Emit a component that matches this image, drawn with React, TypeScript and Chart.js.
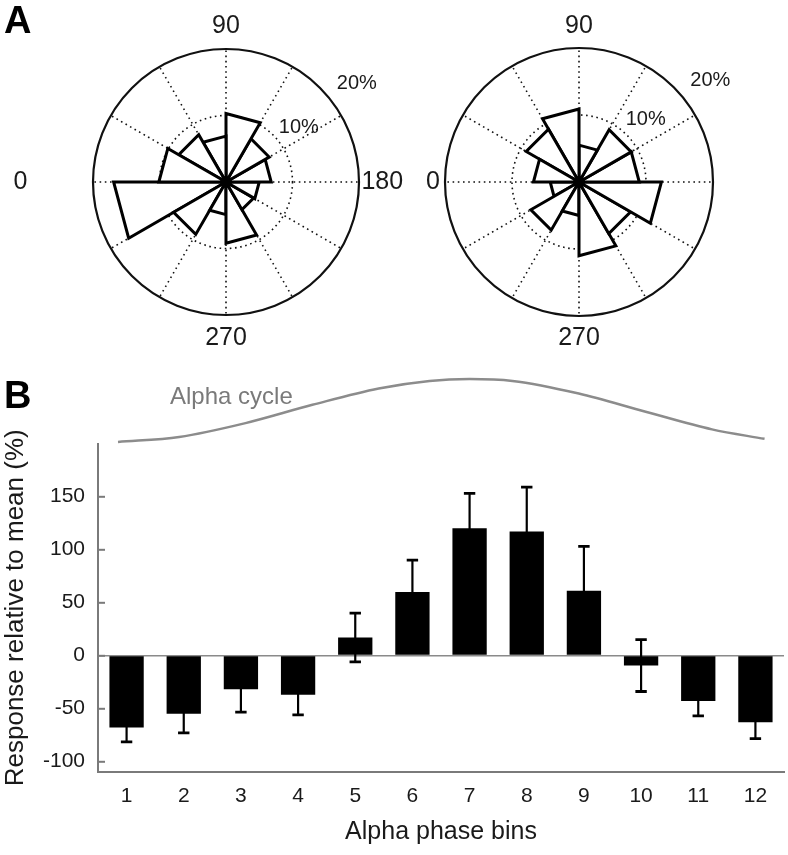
import React, { useEffect, useRef } from 'react';
import { Chart, registerables } from 'chart.js';

Chart.register(...registerables);

const FONT = '"Liberation Sans", Arial, Helvetica, sans-serif';
const TXT = '#1a1a1a';
const AXIS = '#7a7a7a';
const ZERO = '#8a8a8a';

// ---------- Panel A: rose histograms (percentage per 30° phase bin) ----------
const roseBinStarts = [0, 30, 60, 90, 120, 150, 180, 210, 240, 270, 300, 330];
const roseLeftPercent = [10.1, 8.2, 6.9, 10.3, 7.5, 6.8, 5.0, 4.8, 9.2, 4.9, 9.1, 16.9];
const roseRightPercent = [6.8, 9.1, 10.9, 5.5, 9.0, 9.0, 12.3, 8.9, 11.0, 5.0, 8.3, 4.3];
const roseRingLabels = ['10%', '20%'];
const roseAngleLabels = ['0', '90', '180', '270'];

// ---------- Panel B: response per alpha phase bin ----------
const phaseBins = ['1', '2', '3', '4', '5', '6', '7', '8', '9', '10', '11', '12'];
const responseMean = [-68, -55, -32, -37, 17, 60, 120, 117, 61, -9.5, -43, -63];
const responseErr = [13.5, 18, 21.5, 19, 23, 30, 33, 42, 42, 24.5, 14, 15.5];
const yTickValues = [-100, -50, 0, 50, 100, 150];

// Alpha cycle sketch (x in bin units, y relative level)
const cycleX = [0.85, 1.92, 3.08, 4.25, 5.41, 6.3, 7.0, 7.75, 8.91, 10.08, 11.24, 12.16];
const cycleLevel = [0.0, 0.08, 0.3, 0.59, 0.85, 0.97, 1.0, 0.97, 0.77, 0.48, 0.2, 0.05];

type LabelItem = { text: string; index: number; value: number; size: number };

const roseLabelPlugin = {
  id: 'roseLabels',
  afterDraw(chart: any, _args: any, opts: any) {
    const r = chart.scales.r;
    const ctx = chart.ctx;
    ctx.save();
    // hub where all wedge edges meet
    ctx.fillStyle = '#000';
    ctx.beginPath();
    ctx.arc(r.xCenter, r.yCenter, 4, 0, Math.PI * 2);
    ctx.fill();
    ctx.fillStyle = TXT;
    ctx.textAlign = 'center';
    ctx.textBaseline = 'middle';
    (opts.items || []).forEach((it: LabelItem) => {
      const p = r.getPointPositionForValue(it.index, it.value);
      ctx.font = `${it.size}px ${FONT}`;
      ctx.fillText(it.text, p.x, p.y);
    });
    ctx.restore();
  },
};

const errorBarPlugin = {
  id: 'errorBars',
  afterDatasetsDraw(chart: any) {
    const meta = chart.getDatasetMeta(0);
    const y = chart.scales.y;
    const ctx = chart.ctx;
    ctx.save();
    ctx.strokeStyle = '#000';
    ctx.lineCap = 'butt';
    meta.data.forEach((bar: any, i: number) => {
      const v = responseMean[i];
      const e = responseErr[i];
      const x = bar.x;
      const yTop = y.getPixelForValue(v + e);
      const yBot = y.getPixelForValue(v - e);
      ctx.lineWidth = 2.2;
      ctx.beginPath();
      ctx.moveTo(x, yTop);
      ctx.lineTo(x, yBot);
      ctx.stroke();
      ctx.lineWidth = 2.8;
      ctx.beginPath();
      ctx.moveTo(x - 5.7, yTop);
      ctx.lineTo(x + 5.7, yTop);
      ctx.moveTo(x - 5.7, yBot);
      ctx.lineTo(x + 5.7, yBot);
      ctx.stroke();
    });
    ctx.restore();
  },
};

function roseConfig(pcts: number[], padding: any, items: LabelItem[]): any {
  const n = roseBinStarts.length;
  return {
    type: 'radar',
    data: {
      labels: roseBinStarts.map(String),
      datasets: pcts.map((p, i) => ({
        data: roseBinStarts.map((_, j) => (j === i || j === (i + 1) % n ? p : 0)),
        borderColor: '#000',
        borderWidth: 3,
        backgroundColor: '#fff',
        fill: 'origin',
        pointRadius: 0,
        borderJoinStyle: 'miter',
        tension: 0,
      })),
    },
    options: {
      responsive: false,
      animation: false,
      layout: { padding },
      plugins: {
        legend: { display: false },
        tooltip: { enabled: false },
        roseLabels: { items },
      },
      scales: {
        r: {
          min: 0,
          max: 20,
          startAngle: 270,
          ticks: { display: false, stepSize: 10 },
          pointLabels: { display: false },
          angleLines: { display: true, color: '#111', lineWidth: 1.6, borderDash: [1.6, 3.6] },
          grid: {
            circular: true,
            color: (c: any) => '#111',
            lineWidth: (c: any) => (c.tick && c.tick.value >= 20 ? 2.2 : 1.6),
          },
          border: {
            dash: (c: any) => (c.tick && c.tick.value >= 20 ? [] : [1.6, 3.6]),
          },
        },
      },
    },
    plugins: [roseLabelPlugin],
  };
}

export default function App() {
  const leftRef = useRef<HTMLCanvasElement>(null);
  const rightRef = useRef<HTMLCanvasElement>(null);
  const cycleRef = useRef<HTMLCanvasElement>(null);
  const barRef = useRef<HTMLCanvasElement>(null);

  useEffect(() => {
    const charts: Chart[] = [];

    const leftItems: LabelItem[] = [
      { text: roseAngleLabels[0], index: 0, value: 30.9, size: 25 },
      { text: roseAngleLabels[1], index: 3, value: 23.5, size: 25 },
      { text: roseAngleLabels[2], index: 6, value: 23.5, size: 25 },
      { text: roseAngleLabels[3], index: 9, value: 23.5, size: 25 },
      { text: roseRingLabels[0], index: 4.77, value: 13.7, size: 20 },
      { text: roseRingLabels[1], index: 4.77, value: 24.6, size: 20 },
    ];
    const rightItems: LabelItem[] = [
      { text: roseAngleLabels[0], index: 0, value: 21.8, size: 25 },
      { text: roseAngleLabels[1], index: 3, value: 23.3, size: 25 },
      { text: roseAngleLabels[3], index: 9, value: 23.3, size: 25 },
      { text: roseRingLabels[0], index: 4.57, value: 13.6, size: 20 },
      { text: roseRingLabels[1], index: 4.74, value: 24.8, size: 20 },
    ];

    charts.push(
      new Chart(
        leftRef.current as HTMLCanvasElement,
        roseConfig(roseLeftPercent, { left: 93, right: 51, top: 49, bottom: 45 }, leftItems)
      )
    );
    charts.push(
      new Chart(
        rightRef.current as HTMLCanvasElement,
        roseConfig(roseRightPercent, { left: 45, right: 75, top: 48, bottom: 44 }, rightItems)
      )
    );

    charts.push(
      new Chart(cycleRef.current as HTMLCanvasElement, {
        type: 'line',
        data: {
          datasets: [
            {
              data: cycleX.map((x, i) => ({ x, y: cycleLevel[i] })),
              borderColor: '#8c8c8c',
              borderWidth: 2.5,
              pointRadius: 0,
              cubicInterpolationMode: 'monotone',
              fill: false,
              clip: false,
            } as any,
          ],
        },
        options: {
          responsive: false,
          animation: false,
          layout: { padding: { left: 98, right: 4, top: 19, bottom: 8 } },
          plugins: { legend: { display: false }, tooltip: { enabled: false } },
          scales: {
            x: { type: 'linear', min: 0.5, max: 12.5, display: false },
            y: { min: 0, max: 1, display: false },
          },
        },
      })
    );

    charts.push(
      new Chart(barRef.current as HTMLCanvasElement, {
        type: 'bar',
        data: {
          labels: phaseBins,
          datasets: [
            {
              data: responseMean,
              backgroundColor: '#000',
              borderWidth: 0,
              barPercentage: 0.6,
              categoryPercentage: 1,
            },
          ],
        },
        options: {
          responsive: false,
          animation: false,
          layout: { padding: { left: 0, right: 4, top: 13, bottom: 0 } },
          plugins: { legend: { display: false }, tooltip: { enabled: false } },
          scales: {
            x: {
              grid: { display: false, drawTicks: false },
              border: { display: true, color: AXIS, width: 2 },
              ticks: { padding: 12, color: TXT, font: { family: FONT, size: 21 } },
              title: {
                display: true,
                text: 'Alpha phase bins',
                color: TXT,
                font: { family: FONT, size: 25 },
                padding: { top: 0, bottom: 8 },
              },
              afterFit: (s: any) => {
                s.height = 83;
              },
            },
            y: {
              min: -110,
              max: 200,
              afterBuildTicks: (s: any) => {
                s.ticks = yTickValues.map((v) => ({ value: v }));
              },
              grid: {
                drawOnChartArea: true,
                color: (c: any) => (c.tick && c.tick.value === 0 ? ZERO : 'rgba(0,0,0,0)'),
                lineWidth: 1.6,
                drawTicks: true,
                tickLength: -7,
                tickColor: AXIS,
                tickWidth: 2,
              },
              border: { display: true, color: AXIS, width: 2 },
              ticks: { padding: 20, color: TXT, font: { family: FONT, size: 21 } },
              title: {
                display: true,
                text: 'Response relative to mean (%)',
                color: TXT,
                font: { family: FONT, size: 26 },
                padding: { top: 0, bottom: 0 },
              },
              afterFit: (s: any) => {
                s.width = 98;
              },
            },
          },
        } as any,
        plugins: [errorBarPlugin],
      })
    );

    return () => charts.forEach((c) => c.destroy());
  }, []);

  const abs = (l: number, t: number, w: number, h: number): React.CSSProperties => ({
    position: 'absolute',
    left: l,
    top: t,
    width: w,
    height: h,
  });

  return (
    <div style={{ position: 'absolute', left: 0, top: 0, width: 788, height: 855, background: '#fff', overflow: 'hidden', fontFamily: FONT }}>
      <canvas ref={leftRef} width={410} height={360} style={abs(0, 0, 410, 360)} />
      <canvas ref={rightRef} width={388} height={360} style={abs(400, 0, 388, 360)} />
      <canvas ref={barRef} width={788} height={444} style={abs(0, 411, 788, 444)} />
      <canvas ref={cycleRef} width={788} height={90} style={abs(0, 360, 788, 90)} />
      <div style={{ position: 'absolute', left: 4, top: 1, fontSize: 38, lineHeight: '38px', fontWeight: 'bold', color: '#000' }}>A</div>
      <div style={{ position: 'absolute', left: 4, top: 376, fontSize: 38, lineHeight: '38px', fontWeight: 'bold', color: '#000' }}>B</div>
      <div style={{ position: 'absolute', left: 170, top: 384, fontSize: 24, lineHeight: '24px', color: '#7a7a7a' }}>Alpha cycle</div>
    </div>
  );
}
